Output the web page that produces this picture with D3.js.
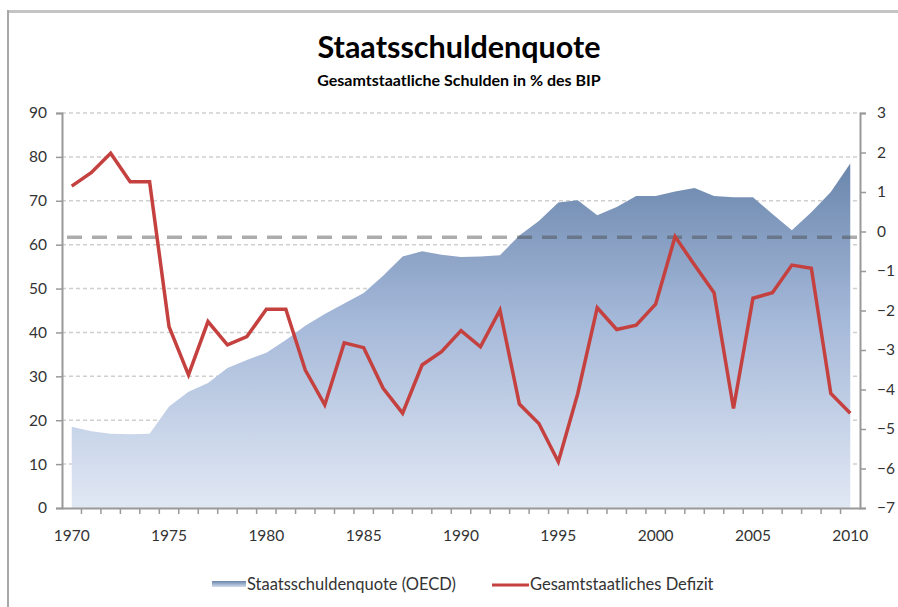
<!DOCTYPE html>
<html>
<head>
<meta charset="utf-8">
<script src="https://cdn.jsdelivr.net/npm/d3@7"></script>
<style>
  body { margin: 0; background: white; }
  svg { font-family: Lato, "Open Sans", sans-serif; }
  .tick text { fill: #333; font-size: 15.5px; }
</style>
</head>
<body>
<svg width="898" height="607"></svg>
<script>
// Jahre 1970-2010
var years = d3.range(1970, 2011)

// Staatsschuldenquote (OECD), % des BIP
var debt = [
  18.5, 17.5, 16.9, 16.8, 16.9, 23.1, 26.5, 28.5, 31.9, 33.7,
  35.4, 38.3, 41.5, 44.2, 46.6, 49.0, 52.9, 57.3, 58.5, 57.7,
  57.2, 57.3, 57.6, 62.1, 65.4, 69.6, 70.1, 66.7, 68.6, 71.1,
  71.1, 72.1, 72.9, 71.1, 70.8, 70.8, 67.0, 63.3, 67.4, 72.0,
  78.5
]

// Gesamtstaatliches Defizit, % des BIP
var deficit = [
  1.15, 1.49, 1.98, 1.26, 1.26, -2.41, -3.63, -2.28, -2.87, -2.66,
  -1.97, -1.97, -3.51, -4.39, -2.82, -2.94, -3.97, -4.60, -3.38, -3.04,
  -2.51, -2.92, -1.99, -4.37, -4.86, -5.83, -4.10, -1.93, -2.48, -2.37,
  -1.84, -0.13, -0.85, -1.55, -4.48, -1.69, -1.55, -0.85, -0.93, -4.10,
  -4.60
]

var leftTicks = d3.range(0, 91, 10)
var rightTicks = d3.range(-7, 4, 1)
var xLabels = [1970, 1975, 1980, 1985, 1990, 1995, 2000, 2005, 2010]
var refLine = 61.7

var
  svg = d3.select("svg"),
  margin = { top: 113, right: 38, bottom: 99, left: 62 },
  width = 898 - margin.left - margin.right,
  height = 607 - margin.top - margin.bottom,
  group = svg.append("g").attr(
    "transform",
    `translate(${margin.left},${margin.top})`
  )

var
  x = d3.scaleBand().domain(years).range([0, width]),
  yLeft = d3.scaleLinear().domain([0, 90]).range([height, 0]),
  yRight = d3.scaleLinear().domain([-7, 3]).range([height, 0]),
  cx = d => x(d) + x.bandwidth() / 2

// rahmen
svg.append("line")
  .attr("x1", 8).attr("x2", 898).attr("y1", 11.5).attr("y2", 11.5)
  .attr("stroke", "#c4c4c4").attr("stroke-width", 3)
svg.append("line")
  .attr("x1", 8).attr("x2", 8).attr("y1", 10).attr("y2", 607)
  .attr("stroke", "#a8a8a8").attr("stroke-width", 2)

// titel
svg.append("text")
  .attr("x", 459).attr("y", 58)
  .attr("text-anchor", "middle")
  .style("font-size", "30.5px").style("font-weight", "bold")
  .text("Staatsschuldenquote")
svg.append("text")
  .attr("x", 459).attr("y", 86)
  .attr("text-anchor", "middle")
  .style("font-size", "16px").style("font-weight", "bold")
  .text("Gesamtstaatliche Schulden in % des BIP")

// gradient
var defs = svg.append("defs")
var grad = defs.append("linearGradient")
  .attr("id", "areaGrad")
  .attr("gradientUnits", "userSpaceOnUse")
  .attr("x1", 0).attr("x2", 0)
  .attr("y1", yLeft(80)).attr("y2", yLeft(0))
grad.append("stop").attr("offset", "0%").attr("stop-color", "#6884aa")
grad.append("stop").attr("offset", "45%").attr("stop-color", "#a3b7d8")
grad.append("stop").attr("offset", "100%").attr("stop-color", "#e1e8f4")

var legGrad = defs.append("linearGradient")
  .attr("id", "legGrad")
  .attr("x1", 0).attr("x2", 0).attr("y1", 0).attr("y2", 1)
legGrad.append("stop").attr("offset", "0%").attr("stop-color", "#6884aa")
legGrad.append("stop").attr("offset", "100%").attr("stop-color", "#d3ddef")

// gitterlinien
group.append("g")
  .selectAll("line")
  .data(leftTicks.filter(d => d > 0))
  .join("line")
  .attr("x1", 0).attr("x2", width)
  .attr("y1", d => yLeft(d)).attr("y2", d => yLeft(d))
  .attr("stroke", "#cfcfcf")
  .attr("stroke-width", 1.5)
  .attr("stroke-dasharray", "4,3")

// flaeche
var area = d3.area()
  .x(d => cx(d.year))
  .y0(height)
  .y1(d => yLeft(d.value))

group.append("path")
  .attr("d", area(years.map((year, i) => ({ year, value: debt[i] }))))
  .attr("fill", "url(#areaGrad)")

// referenzlinie
group.append("line")
  .attr("x1", 5).attr("x2", width - 3)
  .attr("y1", yLeft(refLine)).attr("y2", yLeft(refLine))
  .attr("stroke", "rgba(70,70,70,0.45)")
  .attr("stroke-width", 3.5)
  .attr("stroke-dasharray", "15,10")

// defizit
var line = d3.line()
  .x(d => cx(d.year))
  .y(d => yRight(d.value))

group.append("path")
  .attr("d", line(years.map((year, i) => ({ year, value: deficit[i] }))))
  .attr("fill", "none")
  .attr("stroke", "#c4413f")
  .attr("stroke-width", 3.5)
  .attr("stroke-linejoin", "miter")

// achsen
var leftAxis = group.append("g")
  .call(d3.axisLeft(yLeft).tickValues(leftTicks).tickSize(6).tickPadding(9))
var rightAxis = group.append("g")
  .attr("transform", `translate(${width},0)`)
  .call(d3.axisRight(yRight).tickValues(rightTicks).tickSize(6).tickPadding(11))
var xAxis = group.append("g")
  .attr("transform", `translate(0,${height})`)
  .call(d3.axisBottom(x).tickSize(0).tickPadding(22)
    .tickFormat(d => xLabels.includes(d) ? d : ""))

xAxis.append("g")
  .selectAll("line")
  .data(years.slice(1))
  .join("line")
  .attr("x1", d => x(d)).attr("x2", d => x(d))
  .attr("y1", 0).attr("y2", 6)
  .attr("stroke", "#999").attr("stroke-width", 1.5)

;[leftAxis, rightAxis, xAxis].forEach(a => {
  a.select(".domain").attr("stroke", "#999").attr("stroke-width", 2)
  a.selectAll(".tick line").attr("stroke", "#999").attr("stroke-width", 1.5)
  a.selectAll(".tick text").style("font-family", "Lato, sans-serif")
})

// legende
var legend = svg.append("g").attr("transform", "translate(0,586)")
legend.append("rect")
  .attr("x", 212).attr("y", -5).attr("width", 34).attr("height", 6)
  .attr("fill", "url(#legGrad)")
legend.append("text")
  .attr("x", 247).attr("y", 0)
  .style("font-size", "16.5px").style("fill", "#333")
  .style("dominant-baseline", "middle")
  .text("Staatsschuldenquote (OECD)")
legend.append("line")
  .attr("x1", 492).attr("x2", 529).attr("y1", -1).attr("y2", -1)
  .attr("stroke", "#c4413f").attr("stroke-width", 3)
legend.append("text")
  .attr("x", 530).attr("y", 0)
  .style("font-size", "16.5px").style("fill", "#333")
  .style("dominant-baseline", "middle")
  .text("Gesamtstaatliches Defizit")
</script>
</body>
</html>
